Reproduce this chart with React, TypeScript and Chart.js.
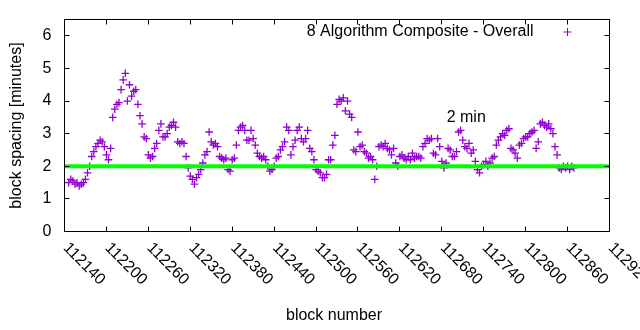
import { useEffect, useRef } from "react";
import { Chart, registerables } from "chart.js";

Chart.register(...registerables);

// ---- data ----
const startBlock = 112146;
const blockStep = 3;
const spacingMinutes = [
  1.5, 1.6, 1.55, 1.45, 1.5, 1.4, 1.45, 1.5, 1.6, 1.8,
  2.0, 2.3, 2.45, 2.6, 2.7, 2.8, 2.75, 2.6, 2.35, 2.2,
  2.55, 3.5, 3.75, 3.9, 3.95, 4.35, 4.65, 4.85, 4.0, 4.5,
  4.15, 4.3, 4.35, 3.9, 3.55, 3.3, 2.9, 2.85, 2.35, 2.25,
  2.3, 2.55, 2.7, 3.1, 3.3, 2.9, 2.9, 3.0, 3.2, 3.25,
  3.35, 3.2, 2.75, 2.7, 2.75, 2.7, 2.3, 1.95, 1.7, 1.6,
  1.45, 1.65, 1.75, 1.9, 2.1, 2.35, 2.45, 3.05, 2.75, 2.65,
  2.7, 2.6, 2.3, 2.25, 2.2, 2.25, 1.9, 1.85, 2.2, 2.25,
  2.65, 3.1, 3.2, 3.25, 3.1, 2.8, 2.8, 3.1, 2.85, 2.65,
  2.4, 2.3, 2.25, 2.3, 2.2, 2.0, 1.85, 1.9, 2.0, 2.25,
  2.3, 2.5, 2.6, 2.75, 3.2, 3.1, 2.35, 2.6, 2.8, 3.1,
  3.2, 2.85, 2.75, 2.85, 3.1, 2.55, 2.45, 2.2, 1.9, 1.85,
  1.8, 1.65, 1.65, 1.75, 2.2, 2.2, 2.65, 2.95, 3.9, 4.05,
  4.0, 4.1, 3.7, 4.0, 3.6, 3.5, 2.5, 2.45, 3.05, 2.6,
  2.65, 2.45, 2.4, 2.25, 2.3, 2.2, 1.6, 2.0, 2.6, 2.65,
  2.6, 2.7, 2.55, 2.5, 2.35, 2.55, 2.1, 2.0, 2.3, 2.35,
  2.25, 2.2, 2.3, 2.2, 2.4, 2.25, 2.3, 2.3, 2.25, 2.6,
  2.7, 2.85, 2.8, 2.85, 2.4, 2.35, 2.85, 2.6, 2.15, 1.95,
  2.1, 2.55, 2.5, 2.3, 2.3, 2.45, 3.05, 3.1, 2.8, 2.6,
  2.55, 2.7, 2.4, 2.5, 2.15, 1.9, 1.8, 2.0, 2.05, 2.15,
  2.0, 2.1, 2.25, 2.3, 2.65, 2.8, 2.9, 3.0, 2.95, 3.1,
  3.15, 2.55, 2.5, 2.4, 2.25, 2.65, 2.7, 2.85, 2.9, 2.9,
  3.0, 3.05, 3.1, 2.55, 2.75, 3.3, 3.35, 3.25, 3.2, 3.3,
  3.15, 3.0, 2.6, 2.35, 1.95, 1.9, 2.0, 1.95, 2.0, 1.9,
  2.0, 1.95,
];
const xTickValues = [
  112140, 112200, 112260, 112320, 112380, 112440, 112500,
  112560, 112620, 112680, 112740, 112800, 112860, 112920,
];
const yTickValues = [0, 1, 2, 3, 4, 5, 6];
const xRange = [112140, 112920];
const yRange = [0, 6.5];
const targetMinutes = 2;
const seriesLabel = "8 Algorithm Composite - Overall";
const targetLabel = "2 min";
const targetLabelAt = [112687, 3.5];
const xTitle = "block number";
const yTitle = "block spacing [minutes]";

const SERIES_COLOR = "#9400d3";
const TARGET_COLOR = "#00ff00";
const FONT = '16px "Liberation Sans", Arial, sans-serif';

const framePlugin = {
  id: "gnuplotFrame",
  afterDatasetsDraw(chart: any) {
    const { ctx, chartArea: a, scales } = chart;
    const xs = scales.x;
    const ys = scales.y;
    ctx.save();
    ctx.strokeStyle = "#000";
    ctx.lineWidth = 1;
    ctx.beginPath();
    for (const t of xs.ticks) {
      const px = Math.floor(xs.getPixelForValue(t.value)) + 0.5;
      ctx.moveTo(px, a.bottom);
      ctx.lineTo(px, a.bottom - 5);
      ctx.moveTo(px, a.top);
      ctx.lineTo(px, a.top + 5);
    }
    for (const t of ys.ticks) {
      const py = Math.floor(ys.getPixelForValue(t.value)) + 0.5;
      ctx.moveTo(a.left, py);
      ctx.lineTo(a.left + 5, py);
      ctx.moveTo(a.right, py);
      ctx.lineTo(a.right - 5, py);
    }
    ctx.stroke();
    ctx.strokeRect(a.left, a.top, a.right - a.left, a.bottom - a.top);

    ctx.fillStyle = "#000";
    ctx.font = FONT;
    // y tick labels
    ctx.textAlign = "right";
    ctx.textBaseline = "middle";
    for (const t of ys.ticks) {
      ctx.fillText(String(t.value), a.left - 13, ys.getPixelForValue(t.value));
    }
    // rotated x tick labels
    ctx.textAlign = "left";
    for (const t of xs.ticks) {
      const px = xs.getPixelForValue(t.value);
      ctx.save();
      ctx.translate(px + 1, a.bottom + 14);
      ctx.rotate(Math.PI / 4);
      ctx.fillText(String(t.value), 0, 0);
      ctx.restore();
    }
    // axis titles
    ctx.textAlign = "center";
    ctx.fillText(xTitle, (a.left + a.right) / 2 - 3, a.bottom + 84);
    ctx.save();
    ctx.translate(17, (a.top + a.bottom) / 2);
    ctx.rotate(-Math.PI / 2);
    ctx.fillText(yTitle, 0, 0);
    ctx.restore();
    // legend
    ctx.textAlign = "right";
    ctx.fillText(seriesLabel, a.right - 76, a.top + 12.5);
    const lx = a.right - 42;
    const ly = a.top + 12.5;
    ctx.strokeStyle = SERIES_COLOR;
    ctx.beginPath();
    ctx.moveTo(lx - 4, ly);
    ctx.lineTo(lx + 4, ly);
    ctx.moveTo(lx, ly - 4);
    ctx.lineTo(lx, ly + 4);
    ctx.stroke();
    // target label
    ctx.textAlign = "left";
    ctx.fillText(
      targetLabel,
      xs.getPixelForValue(targetLabelAt[0]),
      ys.getPixelForValue(targetLabelAt[1])
    );
    ctx.restore();
  },
};

export default function App() {
  const ref = useRef<HTMLCanvasElement | null>(null);

  useEffect(() => {
    if (!ref.current) return;
    const points = spacingMinutes.map((v, i) => ({
      x: startBlock + i * blockStep,
      y: v,
    }));
    const chart = new Chart(ref.current, {
      type: "scatter",
      data: {
        datasets: [
          {
            label: seriesLabel,
            data: points,
            pointStyle: "cross",
            pointRadius: 3.8,
            pointBorderWidth: 1.3,
            borderColor: SERIES_COLOR,
            backgroundColor: SERIES_COLOR,
            order: 1,
          } as any,
          {
            label: targetLabel,
            type: "line",
            data: [
              { x: xRange[0], y: targetMinutes },
              { x: xRange[1], y: targetMinutes },
            ],
            borderColor: TARGET_COLOR,
            borderWidth: 4,
            pointRadius: 0,
            showLine: true,
            fill: false,
            order: 0,
          } as any,
        ],
      },
      options: {
        animation: false,
        responsive: false,
        devicePixelRatio: 1,
        layout: { padding: { top: 19.5, right: 30.5, left: 0, bottom: 0 } },
        plugins: {
          legend: { display: false },
          tooltip: { enabled: false },
          title: { display: false },
        },
        scales: {
          x: {
            type: "linear",
            min: xRange[0],
            max: xRange[1],
            grid: { display: false, drawTicks: false },
            border: { display: false },
            ticks: { display: false },
            afterBuildTicks: (s: any) => {
              s.ticks = xTickValues.map((v) => ({ value: v }));
            },
            afterFit: (s: any) => {
              s.height = 98.5;
            },
          },
          y: {
            type: "linear",
            min: yRange[0],
            max: yRange[1],
            grid: { display: false, drawTicks: false },
            border: { display: false },
            ticks: { display: false },
            afterBuildTicks: (s: any) => {
              s.ticks = yTickValues.map((v) => ({ value: v }));
            },
            afterFit: (s: any) => {
              s.width = 64.5;
            },
          },
        },
      } as any,
      plugins: [framePlugin],
    });
    return () => chart.destroy();
  }, []);

  return (
    <div style={{ position: "fixed", left: 0, top: 0, width: 640, height: 330, background: "#fff" }}>
      <canvas ref={ref} width={640} height={330} style={{ display: "block" }} />
    </div>
  );
}
